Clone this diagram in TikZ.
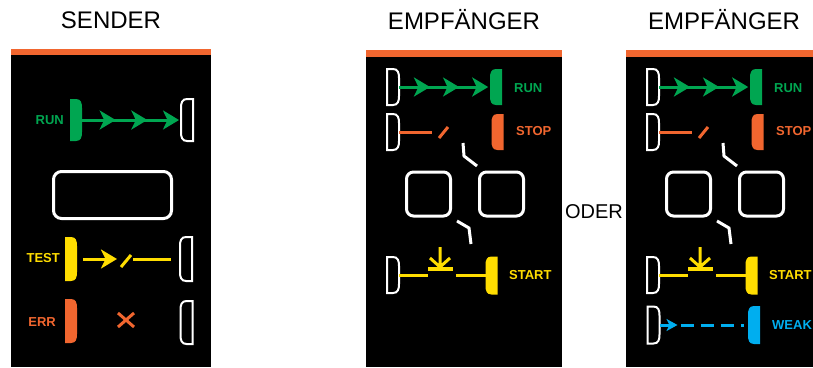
\documentclass[tikz,border=0pt]{standalone}
\usepackage{fontspec}
\setmainfont{Liberation Sans}
\usetikzlibrary{arrows.meta,calc}
\definecolor{panelorange}{RGB}{241,102,47}
\definecolor{rungreen}{RGB}{0,166,81}
\definecolor{stoporange}{RGB}{241,102,47}
\definecolor{startyellow}{RGB}{255,221,0}
\definecolor{weakblue}{RGB}{0,174,239}

\tikzset{
  pics/led/.style={code={
    \path[pic actions] (-6,-#1) -- (0,-#1) .. controls (5,-#1) and (6,{4-#1}) .. (6,{9-#1})
      -- (6,{#1-9}) .. controls (6,{#1-4}) and (5,#1) .. (0,#1) -- (-6,#1) -- cycle;
    \coordinate (-in) at (6,0);
  }},
  ledoff/.style={draw=white, line width=2pt},
  beam/.style={line width=3pt},
  wire/.style={draw=white, line width=3pt},
  display/.style={draw=white, line width=3pt, rounded corners=8pt, inner sep=0pt},
  title/.style={font=\fontsize{24}{28}\selectfont, inner sep=0pt},
  lbl/.style={font=\bfseries\fontsize{13}{15}\selectfont, inner sep=0pt},
}

\begin{document}
\begin{tikzpicture}[x=1pt, y=-1pt, >={Stealth[length=16pt 0 0,width=19pt 0 0,inset=4.5pt 0 0]}]
    \useasboundingbox (0,0) rectangle (813,367);
    \clip (0,0) rectangle (813,367);

    % Titles
    \node[title] (tSend) at (111,20) {SENDER};
    \node[title] (tRxa) at (464,20) {EMPFÄNGER};
    \node[title] (tRxb) at (724,20) {EMPFÄNGER};
    \node[font=\fontsize{20}{24}\selectfont, inner sep=0pt] (oder) at (594,212) {ODER};

    % Sender
    \fill[black] (11,49) rectangle (211,367);
    \fill[panelorange] (11,49) rectangle (211,55);

    \pic[fill=rungreen] (sRun) at (76,120) {led=21};
    \pic[ledoff, xscale=-1] (sRunRx) at (187,120) {led=21};
    \node[lbl, rungreen, anchor=east] (lRun) at (64,120) {RUN};
    \foreach \f in {0.34,0.66,0.98}
      \draw[beam, rungreen, ->] (sRun-in) -- ($(sRun-in)!\f!(sRunRx-in)$);

    \node[display, minimum width=118pt, minimum height=47pt] (sDisp) at (112.5,195) {};

    \pic[fill=startyellow] (sTest) at (71,259) {led=22};
    \pic[ledoff, xscale=-1] (sTestRx) at (186,259) {led=22};
    \node[lbl, startyellow, anchor=east] (lTest) at (60,258) {TEST};
    \draw[beam, startyellow, ->] ([xshift=6pt]sTest-in) -- ++(34,0) coordinate (sTestTip);
    \draw[beam, startyellow] ([xshift=4pt, yshift=-8pt]sTestTip) -- ++(10,-12);
    \draw[beam, startyellow] ([xshift=16pt]sTestTip) -- ([xshift=-9pt]sTestRx-in);

    \pic[fill=stoporange] (sErr) at (71,321) {led=22};
    \pic[ledoff, xscale=-1] (sErrRx) at (186.5,322.5) {led=21.5};
    \node[lbl, stoporange, anchor=east] (lErr) at (56,322) {ERR};
    \coordinate (sErrX) at (126,320);
    \draw[beam, stoporange] (sErrX) +(-8,-7) -- +(8,7) +(-8,7) -- +(8,-7);

    % Receiver (twice)
    \foreach \dx/\p in {0/a,260/b}{
      \begin{scope}[xshift=\dx pt]
        \fill[black] (366,50) rectangle (562,367);
        \fill[panelorange] (366,50) rectangle (562,57);

        \pic[ledoff] (\p Run) at (393,87) {led=18};
        \pic[fill=rungreen, xscale=-1] (\p RunLed) at (496,87) {led=18};
        \foreach \f in {0.34,0.66,0.98}
          \draw[beam, rungreen, ->] (\p Run-in) -- ($(\p Run-in)!\f!(\p RunLed-in)$);
        \node[lbl, rungreen, anchor=west] (\p RunL) at (514,88) {RUN};

        \pic[ledoff] (\p Stop) at (393,132) {led=18};
        \pic[fill=stoporange, xscale=-1] (\p StopLed) at (497.5,132) {led=18};
        \draw[beam, stoporange] (\p Stop-in) -- ++(33,0) coordinate (\p StopEnd);
        \draw[beam, stoporange] ([xshift=7pt, yshift=-6pt]\p StopEnd) -- ++(9,-11);
        \node[lbl, stoporange, anchor=west] (\p StopL) at (516,131) {STOP};

        \node[display, rounded corners=7pt, minimum size=44pt] (\p Left) at (428.5,194) {};
        \node[display, rounded corners=7pt, minimum size=44pt] (\p Right) at (501.5,194) {};
        \draw[wire] (463,143) -- (464,156) -- (477,166);
        \draw[wire] (457,221) -- (469,228) -- (471,244);

        \pic[ledoff] (\p Start) at (393,275) {led=18};
        \pic[fill=startyellow, xscale=-1] (\p StartLed) at (491.5,275.5) {led=19};
        \draw[beam, startyellow] (\p Start-in) -- ++(29,0);
        \draw[beam, startyellow] (\p StartLed-in) -- ++(-30,0);
        \draw[startyellow, line width=4pt] (428,269) -- (453,269);
        \draw[beam, startyellow] (440,247) -- (440,267) (430,258) -- (440,267) -- (450,258);
        \node[lbl, startyellow, anchor=west] (\p StartL) at (509,275) {START};
      \end{scope}
    }

    % Weak signal, second receiver only
    \pic[ledoff] (bWeak) at (653.5,325) {led=18.5};
    \pic[fill=weakblue, xscale=-1] (bWeakLed) at (754,325) {led=19};
    \draw[beam, weakblue, -{Stealth[length=11pt 0 0,width=12pt 0 0,inset=3pt 0 0]}] (bWeak-in) -- ++(18,0) coordinate (bWeakTip);
    \draw[beam, weakblue, dash pattern=on 13pt off 7pt] ([xshift=3pt]bWeakTip) -- ([xshift=-4pt]bWeakLed-in);
    \node[lbl, weakblue, anchor=west] (bWeakL) at (772,325) {WEAK};
\end{tikzpicture}
\end{document}
